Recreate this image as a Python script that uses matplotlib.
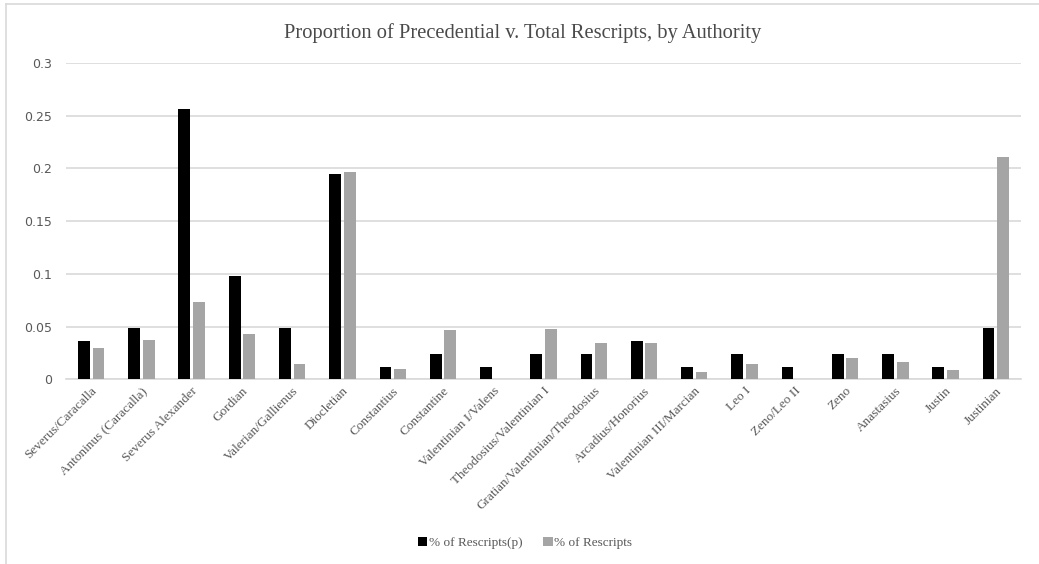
import matplotlib
matplotlib.use("Agg")
import matplotlib.pyplot as plt
import numpy as np
from matplotlib.lines import Line2D

categories = ["Severus/Caracalla", "Antoninus (Caracalla)", "Severus Alexander", "Gordian",
              "Valerian/Gallienus", "Diocletian", "Constantius", "Constantine",
              "Valentinian I/Valens", "Theodosius/Valentinian I", "Gratian/Valentinian/Theodosius",
              "Arcadius/Honorius", "Valentinian III/Marcian", "Leo I", "Zeno/Leo II", "Zeno",
              "Anastasius", "Justin", "Justinian"]
rescripts_p = [0.036, 0.049, 0.256, 0.098, 0.049, 0.195, 0.012, 0.024, 0.012, 0.024, 0.024,
               0.036, 0.012, 0.024, 0.012, 0.024, 0.024, 0.012, 0.049]
rescripts = [0.0294, 0.0373, 0.0733, 0.0427, 0.0142, 0.1966, 0.0098, 0.0468, 0.0, 0.048, 0.0348,
             0.0341, 0.0066, 0.0145, 0.0, 0.0199, 0.0161, 0.0092, 0.2108]
yticks = [0, 0.05, 0.1, 0.15, 0.2, 0.25, 0.3]
ytick_labels = ["0", "0.05", "0.1", "0.15", "0.2", "0.25", "0.3"]

W, H = 1039, 564
fig = plt.figure(figsize=(W/100, H/100), dpi=100)
ax = fig.add_axes([66/W, 1-379.3/H, (1021-66)/W, (379.3-63)/H])

serif = "Liberation Serif"
txtc = "#595959"
x = np.arange(len(categories))
bw = 0.235
off = 0.145
ax.bar(x - off, rescripts_p, width=bw, color="black", label="% of Rescripts(p)", zorder=3)
ax.bar(x + off, rescripts, width=bw, color="#a5a5a5", label="% of Rescripts", zorder=3)

ax.set_xlim(-0.5, len(categories) - 0.5)
ax.set_ylim(0, 0.3)
ax.set_yticks(yticks)
ax.set_yticklabels(ytick_labels, fontsize=9, color=txtc, family="DejaVu Sans")
ax.yaxis.grid(True, color="#d9d9d9", linewidth=1.2, zorder=0)
ax.set_axisbelow(True)
for s in ["top", "right", "left"]:
    ax.spines[s].set_visible(False)
ax.spines["bottom"].set_color("#d9d9d9")
ax.spines["bottom"].set_linewidth(1.2)
ax.tick_params(axis="y", length=0, pad=10)
ax.tick_params(axis="x", length=0, pad=4)
ax.set_xticks(x)
ax.set_xticklabels(categories, rotation=45, ha="right", rotation_mode="anchor",
                   fontsize=9.5, color=txtc, family=serif)

fig.text(523/W, 1-33/H, "Proportion of Precedential v. Total Rescripts, by Authority",
         ha="center", va="center", fontsize=14.8, color="#4a4a4a", family=serif)

leg = fig.legend(loc="center", bbox_to_anchor=(525/W, 1-543/H), ncol=2, frameon=False,
                 prop={"family": serif, "size": 9.5}, handlelength=0.7, handleheight=0.7,
                 handletextpad=0.1, columnspacing=1.6)
for t in leg.get_texts():
    t.set_color(txtc)

fig.add_artist(Line2D([5.5/W, 5.5/W], [0, 1-3.5/H], transform=fig.transFigure, color="#d9d9d9", lw=1.2))
fig.add_artist(Line2D([5.5/W, 1], [1-3.5/H, 1-3.5/H], transform=fig.transFigure, color="#d9d9d9", lw=1.2))

fig.savefig("out.png", dpi=100)
